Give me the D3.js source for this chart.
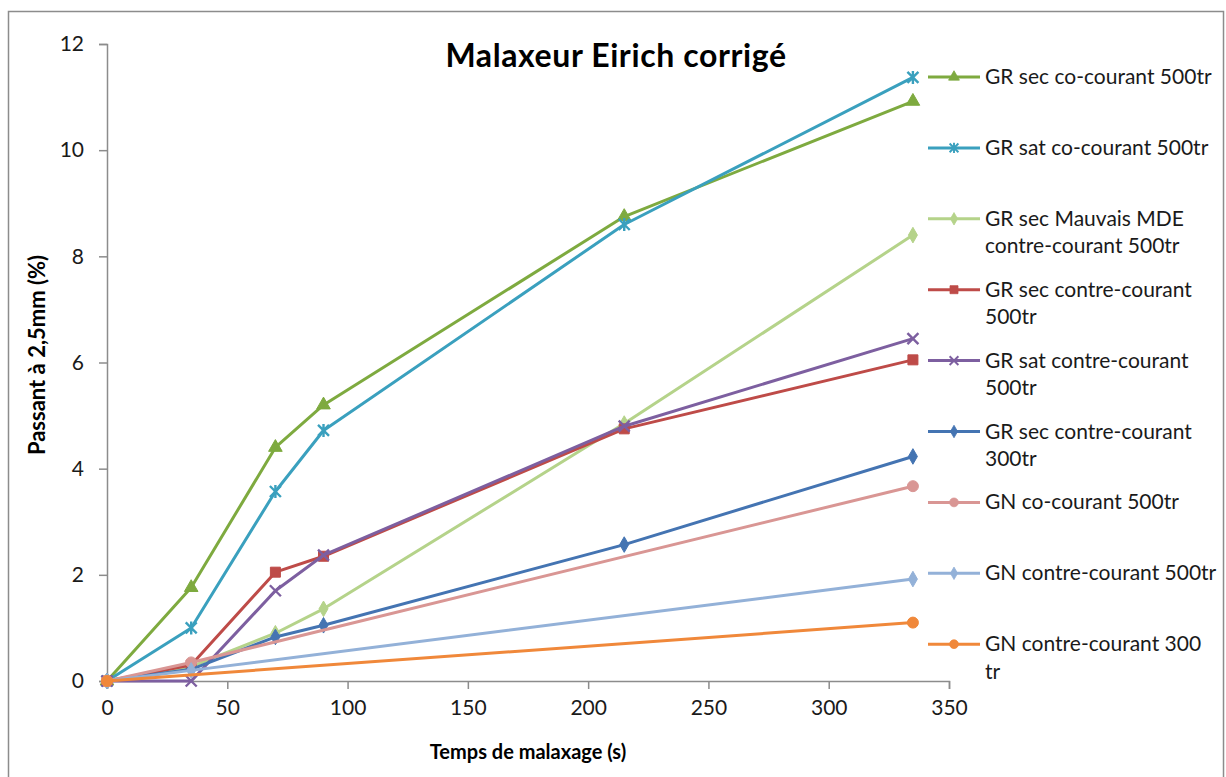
<!DOCTYPE html>
<html>
<head>
<meta charset="utf-8">
<script src="https://cdn.jsdelivr.net/npm/d3@7"></script>
<style>
  body { margin: 0; background: #fff; }
  svg { display: block; font-family: Lato, "Open Sans", sans-serif; }
</style>
</head>
<body>
<div id="chart"></div>
<script>
// time points (s) per series
const timesFull = [0, 35, 70, 90, 215, 335];
const timesGN = [0, 35, 335];
const timesGN300 = [0, 335];

const seriesNames = [
  "GR sec co-courant 500tr",
  "GR sat co-courant 500tr",
  "GR sec Mauvais MDE contre-courant 500tr",
  "GR sec contre-courant 500tr",
  "GR sat contre-courant 500tr",
  "GR sec contre-courant 300tr",
  "GN co-courant 500tr",
  "GN contre-courant 500tr",
  "GN contre-courant 300 tr"
];
const legendLines = [
  ["GR sec co-courant 500tr"],
  ["GR sat co-courant 500tr"],
  ["GR sec Mauvais MDE", "contre-courant 500tr"],
  ["GR sec contre-courant", "500tr"],
  ["GR sat contre-courant", "500tr"],
  ["GR sec contre-courant", "300tr"],
  ["GN co-courant 500tr"],
  ["GN contre-courant 500tr"],
  ["GN contre-courant 300", "tr"]
];

const grSecCo500 = [0, 1.76, 4.4, 5.2, 8.75, 10.92];
const grSatCo500 = [0, 1.0, 3.57, 4.72, 8.6, 11.37];
const grSecMdeContre500 = [0, 0.27, 0.9, 1.36, 4.85, 8.4];
const grSecContre500 = [0, 0.3, 2.05, 2.35, 4.75, 6.05];
const grSatContre500 = [0, 0, 1.7, 2.37, 4.8, 6.45];
const grSecContre300 = [0, 0.22, 0.83, 1.05, 2.57, 4.23];
const gnCo500 = [0, 0.35, 3.67];
const gnContre500 = [0, 0.2, 1.92];
const gnContre300 = [0, 1.1];

const seriesTimes = [timesFull, timesFull, timesFull, timesFull, timesFull, timesFull, timesGN, timesGN, timesGN300];
const seriesValues = [grSecCo500, grSatCo500, grSecMdeContre500, grSecContre500, grSatContre500, grSecContre300, gnCo500, gnContre500, gnContre300];
const colors = ["#7EAA3F", "#3AA0BE", "#B5D38A", "#BE4B48", "#7D5FA0", "#4474B2", "#D99694", "#93B1D8", "#F0883A"];
const markers = ["triangle", "star", "diamond", "square", "x", "diamond", "circle", "diamond", "circle"];

const xTicks = [0, 50, 100, 150, 200, 250, 300, 350];
const yTicks = [0, 2, 4, 6, 8, 10, 12];

const width = 1226, height = 777;
const svg = d3.select("#chart").append("svg")
  .attr("width", width)
  .attr("height", height);

// outer frame
svg.append("rect")
  .attr("x", 8.5).attr("y", 11.5)
  .attr("width", 1215).attr("height", 800)
  .attr("fill", "#fff")
  .attr("stroke", "#8c8c8c")
  .attr("stroke-width", 1.5);

const x = d3.scaleLinear().domain([0, 350]).range([107, 949]);
const y = d3.scaleLinear().domain([0, 12]).range([681, 44]);

const yAxis = svg.append("g")
  .attr("transform", `translate(${x(0)},0)`)
  .call(d3.axisLeft(y).tickValues(yTicks).tickSize(8).tickPadding(15));
const xAxis = svg.append("g")
  .attr("transform", `translate(0,${y(0)})`)
  .call(d3.axisBottom(x).tickValues(xTicks).tickSize(8).tickPadding(11));

[xAxis, yAxis].forEach(g => {
  g.select(".domain").attr("stroke", "#8c8c8c").attr("stroke-width", 1.5);
  g.selectAll(".tick line").attr("stroke", "#8c8c8c").attr("stroke-width", 1.5);
  g.selectAll(".tick text")
    .attr("fill", "#1a1a1a")
    .style("font-size", "21px")
    .style("font-family", "Lato, sans-serif");
});

function markerPath(type) {
  if (type === "triangle") return d3.symbol(d3.symbolTriangle, 80)();
  if (type === "square") return d3.symbol(d3.symbolSquare, 100)();
  if (type === "diamond") return d3.symbol(d3.symbolDiamond, 70)();
  if (type === "circle") return d3.symbol(d3.symbolCircle, 95)();
  if (type === "x") return "M-5.5,-5.5L5.5,5.5M-5.5,5.5L5.5,-5.5";
  if (type === "star") return "M-5.5,-5.5L5.5,5.5M-5.5,5.5L5.5,-5.5M0,-6.5L0,6.5";
  return "";
}

function drawMarker(g, type, color) {
  const open = type === "x" || type === "star";
  g.append("path")
    .attr("d", markerPath(type))
    .attr("fill", open ? "none" : color)
    .attr("stroke", color)
    .attr("stroke-width", open ? 2.4 : 1);
}

const line = d3.line()
  .x(d => x(d[0]))
  .y(d => y(d[1]));

const plot = svg.append("g");
seriesValues.forEach((vals, i) => {
  const pts = vals.map((v, j) => [seriesTimes[i][j], v]);
  plot.append("path")
    .datum(pts)
    .attr("d", line)
    .attr("fill", "none")
    .attr("stroke", colors[i])
    .attr("stroke-width", 3)
    .attr("stroke-linejoin", "round");
  pts.forEach(p => {
    const m = plot.append("g").attr("transform", `translate(${x(p[0])},${y(p[1])})`);
    drawMarker(m, markers[i], colors[i]);
  });
});

// title
svg.append("text")
  .attr("x", 616).attr("y", 67)
  .attr("text-anchor", "middle")
  .attr("fill", "#000")
  .style("font-size", "32px")
  .style("font-weight", "bold")
  .style("letter-spacing", "0.6px")
  .text("Malaxeur Eirich corrigé");

// axis titles
svg.append("text")
  .attr("x", 528).attr("y", 759)
  .attr("text-anchor", "middle")
  .attr("fill", "#000")
  .style("font-size", "20px")
  .style("font-weight", "bold")
  .text("Temps de malaxage (s)");

svg.append("text")
  .attr("transform", "translate(45,355) rotate(-90)")
  .attr("text-anchor", "middle")
  .attr("fill", "#000")
  .style("font-size", "22px")
  .style("font-weight", "bold")
  .text("Passant à 2,5mm (%)");

// legend
const legend = svg.selectAll(".legend")
  .data(seriesNames)
  .join("g")
  .attr("class", "legend")
  .attr("transform", (d, i) => `translate(928,${77 + i * 70.9})`);

legend.append("line")
  .attr("x1", 0).attr("x2", 52)
  .attr("stroke", (d, i) => colors[i])
  .attr("stroke-width", 3);

legend.each(function(d, i) {
  const g = d3.select(this).append("g").attr("transform", "translate(26,0)");
  drawMarker(g, markers[i], colors[i]);
  g.select("path").attr("transform", "scale(0.8)");
});

legend.append("text")
  .attr("x", 57)
  .attr("y", 7)
  .attr("fill", "#1a1a1a")
  .style("font-size", "21px")
  .selectAll("tspan")
  .data((d, i) => legendLines[i])
  .join("tspan")
  .attr("x", 57)
  .attr("dy", (d, j) => j === 0 ? 0 : 27.5)
  .text(d => d);
</script>
</body>
</html>
